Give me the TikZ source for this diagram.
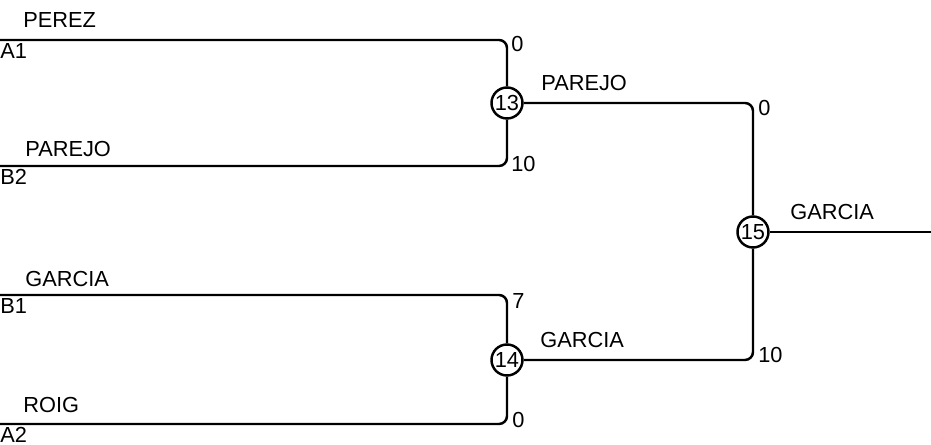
\documentclass[tikz,border=0pt]{standalone}
\usepackage{fontspec}
\setmainfont{Liberation Sans}
\begin{document}
\begin{tikzpicture}[x=0.02cm, y=-0.02cm]
\tikzset{rond/.style={draw, circle, line width=1.4pt, minimum size=0.62cm, inner sep=0pt, font=\fontsize{12.4}{14}\selectfont},
trait/.style={line width=1.4pt, rounded corners=0.16cm},
etiq/.style={inner sep=0pt, font=\fontsize{12.4}{14}\selectfont}}
\useasboundingbox (0,0) rectangle (931,445);
\node[rond] (M13) at (507,103) {13};
\node[rond] (M14) at (507,360) {14};
\node[rond] (M15) at (753,232) {15};
\coordinate (J1) at (0,40);
\coordinate (J2) at (0,166);
\coordinate (J3) at (0,295);
\coordinate (J4) at (0,424);
\coordinate (F) at (931,232);
\draw[trait] (J1) -| (M13);
\draw[trait] (J2) -| (M13);
\draw[trait] (J3) -| (M14);
\draw[trait] (J4) -| (M14);
\draw[trait] (M13) -| (M15);
\draw[trait] (M14) -| (M15);
\draw[trait] (M15) -- (F);
\node[etiq, anchor=base west] (N1) at (23,28) {PEREZ};
\node[etiq, anchor=north west] (E1) at (0,43) {A1};
\node[etiq, anchor=base west] (N2) at (25,157) {PAREJO};
\node[etiq, anchor=north west] (E2) at (0,169) {B2};
\node[etiq, anchor=base west] (N3) at (25,287) {GARCIA};
\node[etiq, anchor=north west] (E3) at (0,298) {B1};
\node[etiq, anchor=base west] (N4) at (23,413) {ROIG};
\node[etiq, anchor=north west] (E4) at (0,427) {A2};
\node[etiq, anchor=base west] (N5) at (541,91) {PAREJO};
\node[etiq, anchor=base west] (N6) at (540,348) {GARCIA};
\node[etiq, anchor=base west] (N7) at (790,220) {GARCIA};
\node[etiq, anchor=west] (S1) at (511,44) {0};
\node[etiq, anchor=west] (S2) at (511,164) {10};
\node[etiq, anchor=west] (S3) at (512,301) {7};
\node[etiq, anchor=west] (S4) at (512,420) {0};
\node[etiq, anchor=west] (S5) at (758,108) {0};
\node[etiq, anchor=west] (S6) at (758,355) {10};
\end{tikzpicture}
\end{document}
